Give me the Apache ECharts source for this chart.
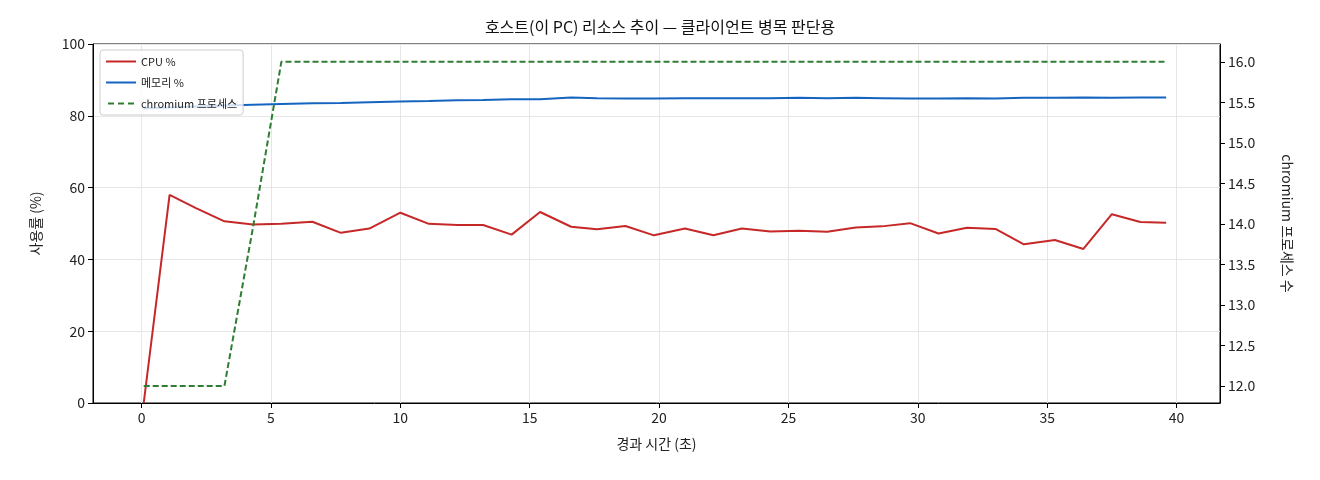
<!DOCTYPE html><html><head><meta charset="utf-8">
<script src="https://cdn.jsdelivr.net/npm/echarts@6/dist/echarts.min.js"></script>
<style>html,body{margin:0;background:#fff}#c{width:1320px;height:480px}</style></head><body><div id="c"></div>
<script>
const xs=[0.08,1.08,2.1,3.2,4.3,5.4,6.6,7.7,8.8,10.0,11.1,12.2,13.2,14.3,15.4,16.6,17.6,18.7,19.8,21.0,22.1,23.2,24.3,25.4,26.5,27.6,28.6,29.7,30.8,31.9,33.0,34.1,35.3,36.4,37.5,38.6,39.6];
const cpu=[0,58,54.3,50.6,49.7,49.9,50.5,47.4,48.6,53,49.9,49.6,49.6,46.9,53.2,49.1,48.4,49.3,46.7,48.6,46.7,48.6,47.8,48.0,47.7,48.9,49.2,50.1,47.2,48.8,48.5,44.2,45.4,42.9,52.6,50.4,50.2];
const mem=[82,82.3,82.6,82.9,83.1,83.3,83.5,83.6,83.8,84.0,84.1,84.3,84.4,84.6,84.6,85.1,84.9,84.8,84.8,84.9,84.9,84.9,84.9,85.0,84.9,85.0,84.9,84.8,84.8,84.9,84.8,85.0,85.0,85.1,85.0,85.1,85.1];
const chrom=[12,12,12,12,13.95,16,16,16,16,16,16,16,16,16,16,16,16,16,16,16,16,16,16,16,16,16,16,16,16,16,16,16,16,16,16,16,16];
const xTicks=[0,5,10,15,20,25,30,35,40];
const rTicks=[12,12.5,13,13.5,14,14.5,15,15.5,16];
const F='"Noto Sans CJK KR","Noto Sans",sans-serif';
const z=a=>xs.map((x,i)=>[x,a[i]]);
const AL={onZero:false,show:true,lineStyle:{color:'#000'}};
const LB={color:'#222',fontSize:14,fontFamily:F};
const NT={color:'#222',fontSize:14,fontFamily:F};
const SL={show:true,lineStyle:{color:'#e6e6e6'}};
const c=echarts.init(document.getElementById('c'));
c.setOption({animation:false,
title:{text:'호스트(이 PC) 리소스 추이 — 클라이언트 병목 판단용',left:'center',top:14,textStyle:{fontSize:16,fontWeight:'normal',color:'#111',fontFamily:F}},
grid:{left:93,right:100,top:44,bottom:77,show:true,borderColor:'#000',borderWidth:1},
legend:{left:100,top:50,orient:'vertical',itemWidth:30,itemHeight:2,itemGap:10,borderColor:'#ccc',borderWidth:1,borderRadius:3,padding:[6,6],backgroundColor:'rgba(255,255,255,0.8)',textStyle:{fontSize:11,fontFamily:F,color:'#222'},
 data:[{name:'CPU %',icon:'rect'},{name:'메모리 %',icon:'rect'},{name:'chromium 프로세스',icon:'path://M0,0h6v2h-6zM10,0h6v2h-6zM20,0h6v2h-6z'}]},
xAxis:{type:'value',min:-1.88,max:41.68,name:'경과 시간 (초)',nameLocation:'middle',nameGap:34,nameTextStyle:NT,axisLine:AL,
 axisTick:{show:true,customValues:xTicks,lineStyle:{color:'#000'}},axisLabel:Object.assign({customValues:xTicks},LB),splitLine:SL},
yAxis:[{type:'value',min:0,max:100,interval:20,name:'사용률 (%)',nameLocation:'middle',nameGap:50,nameTextStyle:NT,axisLine:AL,axisTick:{show:true,lineStyle:{color:'#000'}},axisLabel:LB,splitLine:SL},
 {type:'value',min:11.79,max:16.22,name:'chromium 프로세스 수',nameLocation:'middle',nameGap:60,nameRotate:-90,nameTextStyle:NT,splitLine:{show:false},axisLine:AL,
  axisTick:{show:true,customValues:rTicks,lineStyle:{color:'#000'}},axisLabel:Object.assign({customValues:rTicks,formatter:v=>v.toFixed(1)},LB)}],
series:[
{name:'CPU %',type:'line',data:z(cpu),showSymbol:false,lineStyle:{color:'#c62828',width:2},itemStyle:{color:'#c62828'}},
{name:'메모리 %',type:'line',data:z(mem),showSymbol:false,lineStyle:{color:'#1565c0',width:2},itemStyle:{color:'#1565c0'}},
{name:'chromium 프로세스',type:'line',yAxisIndex:1,data:z(chrom),showSymbol:false,lineStyle:{color:'#2e7d32',width:2,type:[6,3]},itemStyle:{color:'#2e7d32'}}]});
</script></body></html>
